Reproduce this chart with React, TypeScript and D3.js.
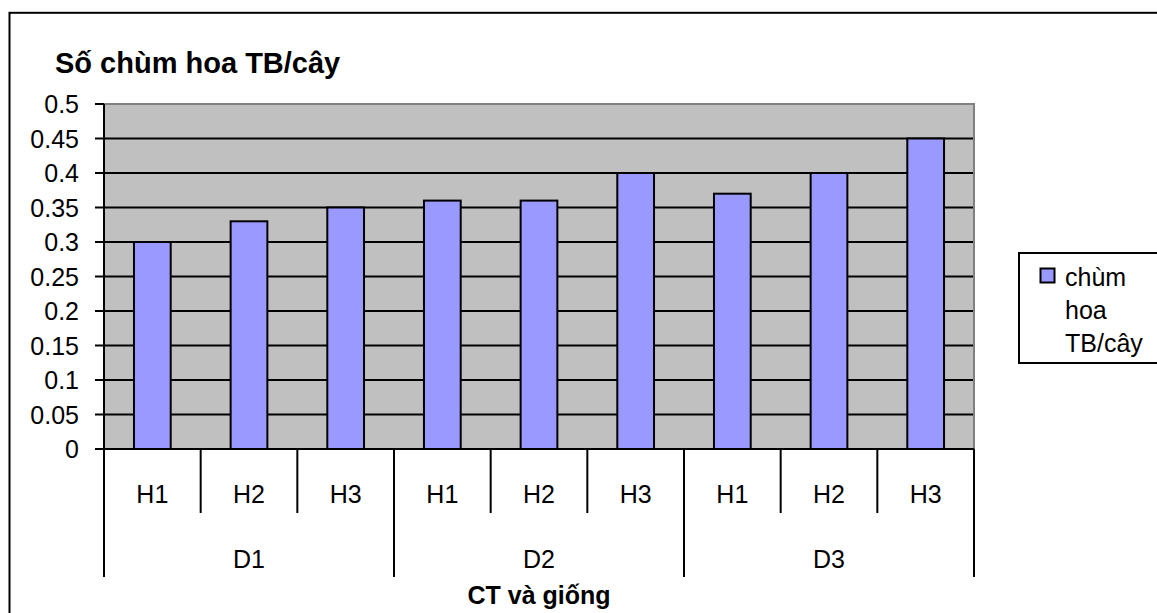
import React from "react";
import * as d3 from "d3";

// Mean number of flower clusters per plant, by treatment (D) and variety (H)
const groups = ["D1", "D2", "D3"];
const varieties = ["H1", "H2", "H3"];
const values = [0.3, 0.33, 0.35, 0.36, 0.36, 0.4, 0.37, 0.4, 0.45];
const yTicks = [0, 0.05, 0.1, 0.15, 0.2, 0.25, 0.3, 0.35, 0.4, 0.45, 0.5];
const yTickLabels = ["0", "0.05", "0.1", "0.15", "0.2", "0.25", "0.3", "0.35", "0.4", "0.45", "0.5"];
const chartTitle = "Số chùm hoa TB/cây";
const xTitle = "CT và giống";
const legendLines = ["chùm", "hoa", "TB/cây"];

const W = 1157;
const H = 613;
const plot = { left: 104, right: 974, top: 104, bottom: 449 };
const FONT = "'Liberation Sans', Arial, sans-serif";
const SW = 2;

export default function App() {
  const cats = values.map((_, i) => `${groups[Math.floor(i / 3)]}-${varieties[i % 3]}`);
  const x = d3.scaleBand<string>().domain(cats).range([plot.left, plot.right]).padding(0);
  const y = d3.scaleLinear().domain([0, 0.5]).range([plot.bottom, plot.top]);
  const bw = x.bandwidth() * 0.38;
  const groupW = x.bandwidth() * 3;

  return (
    <svg
      width={W}
      height={H}
      style={{ position: "absolute", left: 0, top: 0, background: "#fff" }}
      fontFamily={FONT}
    >
      {/* chart frame */}
      <rect x={9.5} y={12.8} width={W + 20} height={H + 20} fill="none" stroke="#000" strokeWidth={2} />

      {/* title */}
      <text x={55} y={73} fontSize={29} fontWeight="bold" fill="#000">
        {chartTitle}
      </text>

      {/* plot background */}
      <rect
        x={plot.left}
        y={plot.top}
        width={plot.right - plot.left}
        height={plot.bottom - plot.top}
        fill="#C0C0C0"
      />

      {/* gridlines */}
      {yTicks.slice(1, -1).map((t) => (
        <line
          key={`g${t}`}
          x1={plot.left}
          x2={plot.right}
          y1={y(t)}
          y2={y(t)}
          stroke="#000"
          strokeWidth={SW}
        />
      ))}

      {/* top / right border */}
      <polyline
        points={`${plot.left},${plot.top} ${plot.right},${plot.top} ${plot.right},${plot.bottom}`}
        fill="none"
        stroke="#808080"
        strokeWidth={2}
      />

      {/* bars */}
      {values.map((v, i) => {
        const cx = (x(cats[i]) as number) + x.bandwidth() / 2;
        return (
          <rect
            key={cats[i]}
            x={cx - bw / 2}
            y={y(v)}
            width={bw}
            height={y(0) - y(v)}
            fill="#9999FF"
            stroke="#000"
            strokeWidth={SW}
          />
        );
      })}

      {/* y axis */}
      <line x1={plot.left} x2={plot.left} y1={plot.top} y2={plot.bottom} stroke="#000" strokeWidth={SW} />
      {yTicks.map((t, i) => (
        <g key={`y${t}`}>
          <line x1={plot.left - 9} x2={plot.left} y1={y(t)} y2={y(t)} stroke="#000" strokeWidth={SW} />
          <text
            x={79}
            y={y(t)}
            fontSize={25}
            textAnchor="end"
            dominantBaseline="central"
            fill="#000"
          >
            {yTickLabels[i]}
          </text>
        </g>
      ))}

      {/* x axis */}
      <line x1={plot.left} x2={plot.right} y1={plot.bottom} y2={plot.bottom} stroke="#000" strokeWidth={SW} />
      {cats.map((c, i) => {
        const x0 = x(c) as number;
        const isGroupEdge = i % 3 === 0;
        return (
          <g key={`x${c}`}>
            <line
              x1={x0}
              x2={x0}
              y1={plot.bottom}
              y2={isGroupEdge ? 577 : 513}
              stroke="#000"
              strokeWidth={SW}
            />
            <text
              x={x0 + x.bandwidth() / 2}
              y={494}
              fontSize={25}
              textAnchor="middle"
              dominantBaseline="central"
              fill="#000"
            >
              {varieties[i % 3]}
            </text>
          </g>
        );
      })}
      <line x1={plot.right} x2={plot.right} y1={plot.bottom} y2={577} stroke="#000" strokeWidth={SW} />
      {groups.map((g, gi) => (
        <text
          key={g}
          x={plot.left + groupW * gi + groupW / 2}
          y={559}
          fontSize={25}
          textAnchor="middle"
          dominantBaseline="central"
          fill="#000"
        >
          {g}
        </text>
      ))}
      <text
        x={(plot.left + plot.right) / 2}
        y={604}
        fontSize={25}
        fontWeight="bold"
        textAnchor="middle"
        fill="#000"
      >
        {xTitle}
      </text>

      {/* legend */}
      <rect x={1019} y={253} width={160} height={110} fill="#fff" stroke="#000" strokeWidth={SW} />
      <rect x={1040.5} y={268.5} width={14} height={14} fill="#9999FF" stroke="#000" strokeWidth={SW} />
      {legendLines.map((s, i) => (
        <text
          key={s}
          x={1065}
          y={277 + i * 33}
          fontSize={25}
          dominantBaseline="central"
          fill="#000"
        >
          {s}
        </text>
      ))}
    </svg>
  );
}
